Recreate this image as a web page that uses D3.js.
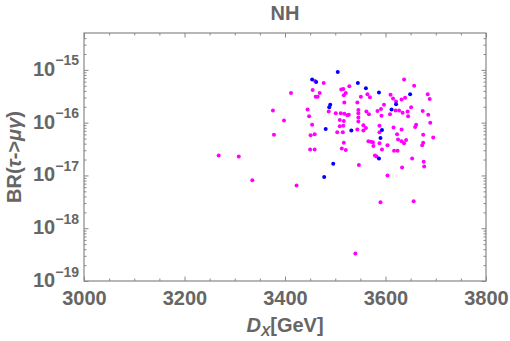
<!DOCTYPE html>
<html>
<head>
<meta charset="utf-8">
<script src="https://cdn.jsdelivr.net/npm/d3@7"></script>
<style>
  body { margin: 0; background: #fff; }
  svg text { font-family: "Liberation Sans", Arial, sans-serif; font-weight: bold; fill: #666; }
</style>
</head>
<body>
<svg id="chart"></svg>
<script>
// D_X [GeV] and log10 BR(tau -> mu gamma)
const pinkDX = [3460, 3477, 3412, 3455, 3469, 3461, 3465, 3512, 3516, 3528,
  3521, 3517, 3518, 3376, 3445, 3487, 3501, 3511, 3518, 3524,
  3527, 3448, 3398, 3509, 3517, 3454, 3509, 3516, 3504, 3515,
  3378, 3459, 3451, 3517, 3450, 3459, 3513, 3521, 3268, 3308,
  3335, 3423, 3547, 3579, 3582, 3604, 3590, 3633, 3653, 3676,
  3677, 3656, 3540, 3637, 3657, 3684, 3688, 3551, 3564, 3569,
  3544, 3610, 3615, 3632, 3639, 3621, 3597, 3591, 3584, 3546,
  3546, 3620, 3627, 3634, 3651, 3644, 3645, 3674, 3685, 3592,
  3546, 3546, 3609, 3689, 3661, 3659, 3556, 3561, 3556, 3544,
  3588, 3588, 3632, 3623, 3625, 3632, 3637, 3641, 3675, 3695,
  3675, 3673, 3604, 3593, 3617, 3624, 3566, 3571, 3575, 3576,
  3588, 3562, 3567, 3616];
const pinkLogBR = [-15.21, -15.25, -15.44, -15.38, -15.44, -15.51, -15.51, -15.37, -15.36, -15.31,
  -15.44, -15.48, -15.62, -15.77, -15.75, -15.79, -15.82, -15.82, -15.83, -15.86,
  -15.85, -15.88, -15.96, -15.95, -15.97, -16.04, -16.07, -16.06, -16.18, -16.18,
  -16.23, -16.22, -16.24, -16.38, -16.51, -16.51, -16.49, -16.52, -16.62, -16.64,
  -17.09, -17.19, -16.80, -16.62, -16.64, -17.00, -17.51, -16.85, -16.68, -16.74,
  -16.83, -17.49, -18.48, -15.18, -15.30, -15.46, -15.55, -15.51, -15.46, -15.52,
  -15.62, -15.47, -15.54, -15.56, -15.53, -15.60, -15.66, -15.74, -15.78, -15.76,
  -15.82, -15.77, -15.77, -15.81, -15.71, -15.79, -15.88, -15.78, -15.85, -15.87,
  -15.90, -15.98, -15.84, -16.00, -16.04, -16.08, -16.05, -16.10, -16.15, -16.13,
  -16.18, -16.06, -16.13, -16.22, -16.32, -16.35, -16.39, -16.33, -16.23, -16.28,
  -16.38, -16.43, -16.43, -16.51, -16.53, -16.53, -16.35, -16.36, -16.37, -16.44,
  -16.39, -15.79, -15.84, -16.09];
const blueDX = [3505, 3454, 3462, 3545, 3561, 3587, 3649, 3621, 3612, 3490,
  3488, 3481, 3532, 3593, 3590, 3496, 3587, 3478];
const blueLogBR = [-15.04, -15.18, -15.23, -15.25, -15.35, -15.43, -15.46, -15.65, -15.75, -15.66,
  -15.71, -16.12, -16.15, -16.14, -16.29, -16.78, -16.68, -17.03];

const xTicks = [3000, 3200, 3400, 3600, 3800];
const yExponents = [-19, -18, -17, -16, -15];

const width = 510;
const height = 341;
const margin = { top: 33, right: 24, bottom: 60, left: 84 };
const w = width - margin.left - margin.right;
const h = height - margin.top - margin.bottom;

const svg = d3.select("#chart").attr("width", width).attr("height", height);
const g = svg.append("g").attr("transform", `translate(${margin.left},${margin.top})`);

const x = d3.scaleLinear().domain([3000, 3800]).range([0, w]);
const y = d3.scaleLog().domain([1e-19, 5e-15]).range([h, 0]);

const toPoints = (xs, ls) => xs.map((d, i) => ({ dx: d, br: Math.pow(10, ls[i]) }));
const pink = toPoints(pinkDX, pinkLogBR);
const blue = toPoints(blueDX, blueLogBR);

const yMajor = yExponents.map((e) => Math.pow(10, e));
const yMinor = [];
yExponents.forEach((e) => {
  for (let k = 2; k <= 9; k++) {
    const v = k * Math.pow(10, e);
    if (v <= 5e-15) yMinor.push(v);
  }
});
const xMinor = d3.range(3000, 3801, 50).filter((v) => !xTicks.includes(v));

const tickColor = "#888";

// minor ticks on all four sides (inward)
const minorAxes = [
  { axis: d3.axisBottom(x).tickValues(xMinor), t: `translate(0,${h})`, s: -2.5 },
  { axis: d3.axisTop(x).tickValues(xMinor), t: "translate(0,0)", s: -2.5 },
  { axis: d3.axisLeft(y).tickValues(yMinor), t: "translate(0,0)", s: -2.5 },
  { axis: d3.axisRight(y).tickValues(yMinor), t: `translate(${w},0)`, s: -2.5 },
];
minorAxes.forEach((a) => {
  const ax = g.append("g")
    .attr("transform", a.t)
    .call(a.axis.tickSizeInner(a.s).tickSizeOuter(0).tickFormat(""));
  ax.select(".domain").remove();
  ax.selectAll("line").attr("stroke", tickColor);
});

// major ticks top / right (no labels)
g.append("g")
  .call(d3.axisTop(x).tickValues(xTicks).tickSizeInner(-4.5).tickSizeOuter(0).tickFormat(""))
  .call((s) => s.select(".domain").remove())
  .selectAll("line").attr("stroke", tickColor);
g.append("g")
  .attr("transform", `translate(${w},0)`)
  .call(d3.axisRight(y).tickValues(yMajor).tickSizeInner(-4.5).tickSizeOuter(0).tickFormat(""))
  .call((s) => s.select(".domain").remove())
  .selectAll("line").attr("stroke", tickColor);

// bottom axis with labels
const xAxisG = g.append("g")
  .attr("transform", `translate(0,${h})`)
  .call(d3.axisBottom(x).tickValues(xTicks).tickSizeInner(-4.5).tickSizeOuter(0).tickPadding(10).tickFormat(d3.format("d")));
xAxisG.select(".domain").remove();
xAxisG.selectAll("line").attr("stroke", tickColor);
xAxisG.selectAll("text").style("font-size", "20px").attr("fill", null);

// left axis with 10^n labels
const yAxisG = g.append("g")
  .call(d3.axisLeft(y).tickValues(yMajor).tickSizeInner(-4.5).tickSizeOuter(0).tickPadding(5).tickFormat(""));
yAxisG.select(".domain").remove();
yAxisG.selectAll("line").attr("stroke", tickColor);
yAxisG.selectAll(".tick text")
  .attr("fill", null)
  .attr("dy", "0.55em")
  .each(function (d, i) {
    const t = d3.select(this);
    t.append("tspan").style("font-size", "20px").text("10");
    t.append("tspan").style("font-size", "14px").attr("dy", "-0.75em")
      .text("\u2212" + Math.abs(yExponents[i]));
  });

// frame
g.append("rect")
  .attr("width", w)
  .attr("height", h)
  .attr("fill", "none")
  .attr("stroke", tickColor)
  .attr("stroke-width", 1.2);

// points
g.append("g")
  .selectAll("circle")
  .data(pink)
  .enter()
  .append("circle")
  .attr("cx", (d) => x(d.dx))
  .attr("cy", (d) => y(d.br))
  .attr("r", 2)
  .attr("fill", "#ff00ff");

g.append("g")
  .selectAll("circle")
  .data(blue)
  .enter()
  .append("circle")
  .attr("cx", (d) => x(d.dx))
  .attr("cy", (d) => y(d.br))
  .attr("r", 2)
  .attr("fill", "#0000ff");

// title
svg.append("text")
  .attr("x", margin.left + w / 2)
  .attr("y", 20)
  .attr("text-anchor", "middle")
  .style("font-size", "20px")
  .text("NH");

// x label
const xl = svg.append("text")
  .attr("x", margin.left + w / 2)
  .attr("y", 332)
  .attr("text-anchor", "middle")
  .style("font-size", "20px");
xl.append("tspan").style("font-style", "italic").text("D");
xl.append("tspan").style("font-style", "italic").style("font-size", "14px").attr("dy", "4").text("X");
xl.append("tspan").attr("dy", "-4").text("[GeV]");

// y label
const yl = svg.append("text")
  .attr("transform", `translate(21,${margin.top + h / 2}) rotate(-90)`)
  .attr("text-anchor", "middle")
  .style("font-size", "20px");
yl.append("tspan").text("BR(");
yl.append("tspan").style("font-style", "italic").text("\u03c4");
yl.append("tspan").text("->");
yl.append("tspan").style("font-style", "italic").text("\u03bc\u03b3");
yl.append("tspan").text(")");
</script>
</body>
</html>
